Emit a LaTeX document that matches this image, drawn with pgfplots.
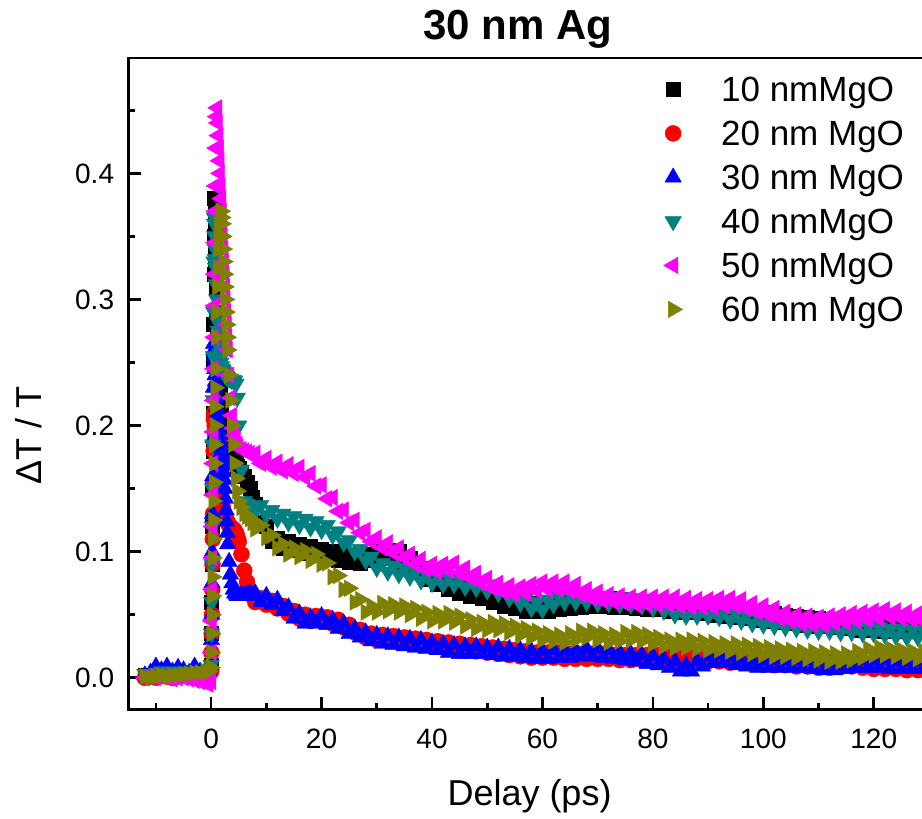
\documentclass[border=0pt]{standalone}
\usepackage{pgfplots}
\usepackage{pgfplotstable}
\usepackage{fontspec}
\setmainfont{Liberation Sans}
\pgfplotsset{compat=1.18}
\definecolor{cteal}{RGB}{0,128,128}
\definecolor{colive}{RGB}{128,128,0}
\definecolor{cmag}{RGB}{255,0,255}
\definecolor{cred}{RGB}{255,0,0}
\definecolor{cblue}{RGB}{0,0,255}
\pgfplotstableread{
x k r b t m o
-12 .002 .000 .002 .003 .000 .001
-11 .001 .001 .004 .002 .001 .000
-10 .003 .000 .009 .004 .000 .001
-9 .002 .002 .006 .005 .001 .002
-8 .003 .001 .009 .003 .000 .001
-7 .002 .000 .005 .004 -.001 .002
-6 .004 .001 .008 .005 .000 .002
-5 .003 .002 .006 .003 .000 .003
-4 .002 .001 .004 .004 -.001 .003
-3 .003 .000 .009 .005 -.002 .004
-2 .004 .001 .005 .004 -.003 .004
-1 .003 .002 .006 .005 -.004 .005
-0.5 .003 .001 .006 .004 -.005 .005
0 .010 .005 .010 .010 -.003 .008
0.05 .035 .020 .030 .035 .020 .020
0.1 .060 .035 .050 .060 .045 .035
0.15 .090 .050 .075 .090 .070 .050
0.2 .120 .070 .100 .120 .095 .065
0.25 .150 .090 .130 .150 .120 .080
0.3 .180 .110 .160 .185 .145 .095
0.35 .210 .130 .190 .220 .170 .110
0.4 .250 .155 .230 .255 .195 .125
0.45 .280 .180 .265 .290 .220 .140
0.5 .320 .205 .260 .330 .245 .155
0.55 .350 .210 .255 .365 .270 .170
0.6 .380 .205 .250 .360 .295 .185
0.65 .370 .200 .245 .350 .320 .200
0.7 .355 .196 .240 .340 .345 .215
0.75 .340 .192 .235 .332 .370 .230
0.8 .330 .188 .230 .325 .390 .245
0.9 .310 .182 .222 .312 .420 .270
1.0 .290 .176 .215 .300 .445 .290
1.1 .275 .170 .210 .290 .452 .310
1.2 .260 .165 .205 .282 .440 .325
1.3 .250 .160 .200 .275 .430 .340
1.4 .240 .156 .196 .268 .420 .350
1.5 .232 .152 .192 .262 .410 .360
1.6 .225 .148 .188 .257 .400 .365
1.7 .218 .145 .185 .253 .390 .370
1.8 .212 .142 .182 .250 .380 .370
1.9 .207 .140 .179 .247 .370 .365
2.0 .203 .137 .176 .245 .360 .360
2.1 .200 .135 .172 .244 .350 .350
2.2 .197 .133 .168 .243 .340 .340
2.3 .195 .131 .163 .242 .330 .330
2.4 .192 .130 .157 .241 .320 .320
2.5 .190 .128 .150 .240 .310 .310
2.6 .188 .127 .142 .240 .300 .300
2.7 .186 .126 .133 .239 .290 .290
2.8 .185 .125 .124 .239 .280 .280
2.9 .183 .124 .115 .238 .270 .270
3.0 .182 .123 .106 .238 .260 .260
3.25 .180 .121 .092 .237 .240 .240
3.5 .178 .120 .082 .237 .222 .220
3.75 .176 .119 .075 .236 .208 .200
4.0 .174 .118 .070 .236 .198 .185
4.25 .172 .117 .067 .235 .192 .170
4.5 .170 .115 .066 .233 .188 .158
4.75 .168 .112 .065 .222 .185 .148
5.0 .166 .108 .065 .200 .183 .140
5.5 .163 .098 .066 .165 .181 .135
6 .160 .085 .065 .140 .180 .130
6.5 .155 .076 .066 .138 .179 .128
7 .150 .068 .067 .136 .178 .126
7.5 .143 .065 .065 .136 .176 .123
8 .138 .060 .067 .132 .178 .118
9 .123 .063 .060 .137 .170 .121
10 .120 .058 .065 .129 .174 .111
11 .108 .061 .058 .133 .167 .113
12 .111 .055 .062 .126 .171 .103
13 .103 .057 .053 .130 .164 .106
14 .108 .051 .056 .123 .169 .098
15 .101 .053 .047 .128 .162 .103
16 .106 .047 .051 .121 .167 .096
17 .099 .050 .043 .126 .159 .101
18 .104 .045 .048 .119 .162 .093
19 .097 .049 .043 .124 .152 .098
20 .102 .045 .049 .117 .153 .090
21 .095 .048 .042 .121 .142 .091
22 .100 .043 .046 .113 .143 .080
23 .093 .046 .039 .116 .132 .081
24 .098 .040 .043 .107 .133 .070
25 .092 .042 .035 .109 .123 .071
26 .097 .036 .039 .100 .125 .060
27 .091 .038 .032 .102 .115 .062
28 .098 .032 .036 .093 .117 .052
29 .093 .035 .029 .096 .108 .057
30 .100 .030 .034 .087 .111 .052
31 .095 .034 .027 .091 .103 .059
32 .101 .029 .033 .084 .107 .053
33 .095 .033 .026 .089 .099 .058
34 .100 .028 .032 .082 .103 .052
35 .092 .032 .025 .087 .095 .057
36 .095 .027 .031 .080 .098 .050
37 .085 .031 .024 .084 .090 .055
38 .087 .026 .030 .077 .094 .047
39 .078 .030 .023 .082 .086 .052
40 .082 .025 .028 .075 .090 .045
41 .074 .029 .022 .081 .084 .051
42 .078 .024 .027 .074 .090 .045
43 .070 .028 .020 .080 .085 .051
44 .074 .023 .026 .074 .091 .044
45 .067 .027 .019 .079 .083 .049
46 .072 .022 .025 .072 .087 .041
47 .065 .026 .019 .078 .079 .046
48 .070 .021 .025 .071 .083 .039
49 .063 .025 .019 .076 .075 .044
50 .067 .020 .024 .069 .079 .038
51 .060 .024 .018 .074 .071 .044
52 .064 .019 .024 .067 .075 .038
53 .057 .023 .017 .071 .068 .043
54 .062 .018 .023 .063 .073 .036
55 .055 .022 .017 .067 .066 .041
56 .060 .017 .022 .059 .072 .034
57 .053 .021 .016 .063 .067 .039
58 .059 .016 .021 .055 .074 .032
59 .053 .020 .015 .060 .069 .037
60 .059 .016 .021 .054 .076 .030
61 .053 .020 .015 .062 .070 .035
62 .060 .016 .022 .058 .076 .029
63 .054 .020 .016 .065 .070 .034
64 .061 .015 .022 .060 .076 .028
65 .055 .019 .016 .066 .069 .035
66 .061 .015 .022 .060 .074 .030
67 .056 .019 .017 .066 .066 .037
68 .062 .015 .023 .060 .070 .032
69 .057 .019 .017 .066 .063 .037
70 .063 .015 .023 .059 .068 .030
71 .057 .019 .016 .065 .061 .035
72 .063 .015 .022 .059 .066 .028
73 .056 .018 .015 .064 .060 .034
74 .062 .014 .020 .058 .065 .029
75 .056 .018 .014 .064 .059 .036
76 .061 .014 .019 .058 .064 .030
77 .055 .018 .013 .063 .058 .036
78 .061 .014 .018 .057 .064 .029
79 .054 .018 .011 .062 .058 .034
80 .060 .014 .017 .055 .064 .027
81 .054 .018 .010 .060 .058 .032
82 .059 .013 .015 .053 .064 .025
83 .053 .017 .008 .057 .058 .030
84 .059 .013 .013 .050 .064 .024
85 .052 .019 .005 .055 .057 .030
86 .058 .016 .010 .049 .063 .024
87 .052 .019 .005 .055 .056 .030
88 .057 .014 .013 .049 .062 .023
89 .051 .017 .009 .055 .056 .029
90 .057 .013 .017 .049 .062 .022
91 .050 .017 .012 .054 .056 .028
92 .056 .013 .018 .048 .063 .022
93 .049 .016 .012 .053 .057 .027
94 .055 .012 .017 .046 .063 .021
95 .048 .016 .010 .051 .057 .027
96 .054 .012 .015 .045 .062 .020
97 .047 .015 .009 .050 .055 .026
98 .053 .011 .014 .043 .059 .019
99 .046 .015 .008 .049 .052 .025
100 .052 .011 .014 .042 .057 .018
101 .045 .014 .008 .048 .050 .024
102 .051 .010 .014 .041 .055 .017
103 .044 .014 .008 .047 .047 .023
104 .050 .010 .014 .040 .052 .017
105 .043 .013 .008 .046 .045 .022
106 .049 .009 .014 .039 .050 .016
107 .042 .013 .008 .045 .043 .021
108 .048 .009 .014 .038 .049 .015
109 .041 .012 .007 .044 .042 .021
110 .047 .008 .013 .037 .048 .014
111 .041 .012 .006 .043 .042 .020
112 .046 .008 .012 .037 .049 .013
113 .040 .013 .006 .042 .043 .019
114 .045 .009 .013 .036 .050 .013
115 .039 .013 .007 .042 .044 .019
116 .045 .009 .014 .036 .051 .014
117 .038 .012 .008 .041 .045 .021
118 .044 .008 .014 .035 .052 .016
119 .038 .011 .008 .041 .046 .023
120 .044 .007 .014 .035 .053 .018
121 .037 .011 .008 .040 .047 .024
122 .043 .007 .014 .034 .054 .018
123 .037 .011 .007 .039 .048 .023
124 .043 .007 .013 .033 .053 .017
125 .037 .010 .007 .039 .047 .022
126 .043 .006 .013 .032 .052 .016
127 .037 .010 .007 .038 .046 .021
128 .043 .006 .013 .032 .051 .015
129 .037 .010 .007 .038 .045 .021
130 .043 .006 .013 .032 .051 .015
}\data
\begin{document}
\begin{tikzpicture}
\begin{axis}[
  scale only axis, width=828.3pt, height=651.3pt,
  xmin=-15, xmax=135, ymin=-0.025, ymax=0.4915,
  xtick={0,20,...,120}, minor xtick={-10,10,...,130},
  ytick={0,0.1,0.2,0.3,0.4}, minor ytick={0.05,0.15,0.25,0.35,0.45},
  tick pos=left, tick align=inside,
  major tick length=12.7pt, minor tick length=6.7pt,
  every tick/.append style={black, line width=2.6pt},
  every minor tick/.append style={black, line width=2.6pt},
  axis line style={line width=2.7pt},
  /pgf/number format/assume math mode=true,
  tick label style={font=\fontsize{28}{34}\selectfont},
  yticklabel style={/pgf/number format/.cd, fixed, fixed zerofill, precision=1, /tikz/.cd, inner sep=0pt, xshift=-14pt},
  xticklabel style={inner sep=0pt, yshift=-19pt},
  title={30 nm Ag},
  title style={font=\fontsize{42}{50}\selectfont\bfseries, at={(axis description cs:0.47,1)}, anchor=base, yshift=12pt},
  xlabel={Delay (ps)},
  xlabel style={font=\fontsize{36}{42}\selectfont, at={(axis description cs:0.4844,0)}, anchor=base, yshift=-96.7pt},
  ylabel={ΔT / T},
  ylabel style={font=\fontsize{36}{42}\selectfont, at={(axis description cs:-0.1046,0.42)}, anchor=base},
  legend style={at={(axis description cs:0.631,0.9728)}, anchor=north west, draw=none, fill=none, inner sep=0pt,
    font=\fontsize{35}{42}\selectfont, row sep=10pt,
    nodes={inner sep=0pt, anchor=base west, text height=26pt, text depth=8pt},
    /tikz/every odd column/.style={column sep=26pt}},
  legend image code/.code={\path[draw=none,fill=none] (-22pt,-5pt) rectangle (22pt,5pt); \draw[#1] plot coordinates {(0pt,12.5pt)};},
]
\addplot[only marks, mark=square*, mark size=7pt, black, mark options={line width=0.4pt}] table[x=x,y=k]{\data};
\addlegendentry{10 nmMgO}
\addplot[only marks, mark=*, mark size=8pt, cred, mark options={line width=0.4pt}] table[x=x,y=r]{\data};
\addlegendentry{20 nm MgO}
\addplot[only marks, mark=triangle*, mark size=9.5pt, cblue, mark options={line width=0.4pt}] table[x=x,y=b]{\data};
\addlegendentry{30 nm MgO}
\addplot[only marks, mark=triangle*, mark size=9.5pt, cteal, mark options={rotate=180, line width=0.4pt}] table[x=x,y=t]{\data};
\addlegendentry{40 nmMgO}
\addplot[only marks, mark=triangle*, mark size=9.5pt, cmag, mark options={rotate=90, line width=0.4pt}] table[x=x,y=m]{\data};
\addlegendentry{50 nmMgO}
\addplot[only marks, mark=triangle*, mark size=9.5pt, colive, mark options={rotate=-90, line width=0.4pt}] table[x=x,y=o]{\data};
\addlegendentry{60 nm MgO}
\end{axis}
\pgfresetboundingbox
\path (-128.3pt,-109.7pt) rectangle (793.7pt,709.3pt);
\end{tikzpicture}
\end{document}
